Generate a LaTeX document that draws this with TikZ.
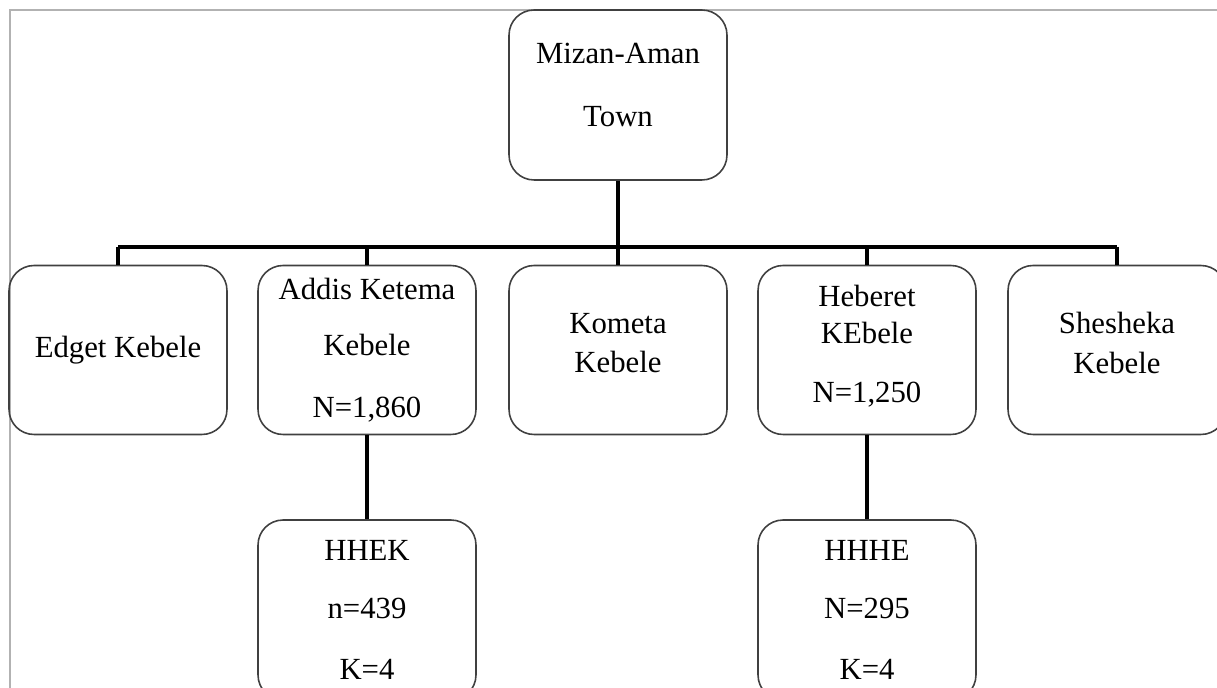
\documentclass[tikz,border=0pt]{standalone}
\usepackage{fontspec}
\setmainfont{Liberation Serif}
\newcommand{\bx}{\fontsize{17.5}{19}\selectfont}
\newcommand{\lift}[1]{\rule[-#1]{0pt}{0pt}}

\begin{document}
\begin{tikzpicture}[x=0.02cm,y=-0.02cm,
   kebele/.style={draw=black!75,line width=0.9pt,rounded corners=0.5cm,
      minimum width=4.36cm,minimum height=3.38cm,align=center,font=\bx,inner sep=0pt},
   link/.style={line width=2.3pt}]
   \useasboundingbox (0,0) rectangle (1217,688);
   \clip (0,0) rectangle (1217,688);
   \draw[black!30,line width=1.2pt] (10,688) -- (10,10) -- (1217,10);
   % town
   \node[kebele,minimum height=3.4cm] (town) at (618,95) {Mizan-Aman\\[17pt]Town\lift{11.5pt}};
   % kebeles
   \node[kebele] (edget)    at (118,350)  {Edget Kebele};
   \node[kebele] (addis)    at (367,350)  {Addis Ketema\\[13pt]Kebele\\[16pt]N=1,860};
   \node[kebele] (kometa)   at (618,350)  {Kometa\\[3.7pt]Kebele\lift{8pt}};
   \node[kebele] (heberet)  at (867,350)  {Heberet\\[2.5pt]KEbele\\[14.5pt]N=1,250\lift{7pt}};
   \node[kebele] (shesheka) at (1117,350) {Shesheka\\[3.7pt]Kebele\lift{8pt}};
   % samples
   \node[kebele,minimum height=3.6cm] (hhek) at (367,610) {HHEK\\[14pt]n=439\\[16pt]K=4};
   \node[kebele,minimum height=3.6cm] (hhhe) at (867,610) {HHHE\\[14pt]N=295\\[16pt]K=4};
   % links
   \coordinate (bar) at (618,247);
   \draw[link] (town.south) -- (town.south |- bar);
   \draw[link] (bar -| edget.north) -- (bar -| shesheka.north);
   \foreach \k in {edget,addis,kometa,heberet,shesheka}
      \draw[link] (bar -| \k.north) -- (\k.north);
   \draw[link] (addis.south) -- (hhek.north);
   \draw[link] (heberet.south) -- (hhhe.north);
\end{tikzpicture}
\end{document}
